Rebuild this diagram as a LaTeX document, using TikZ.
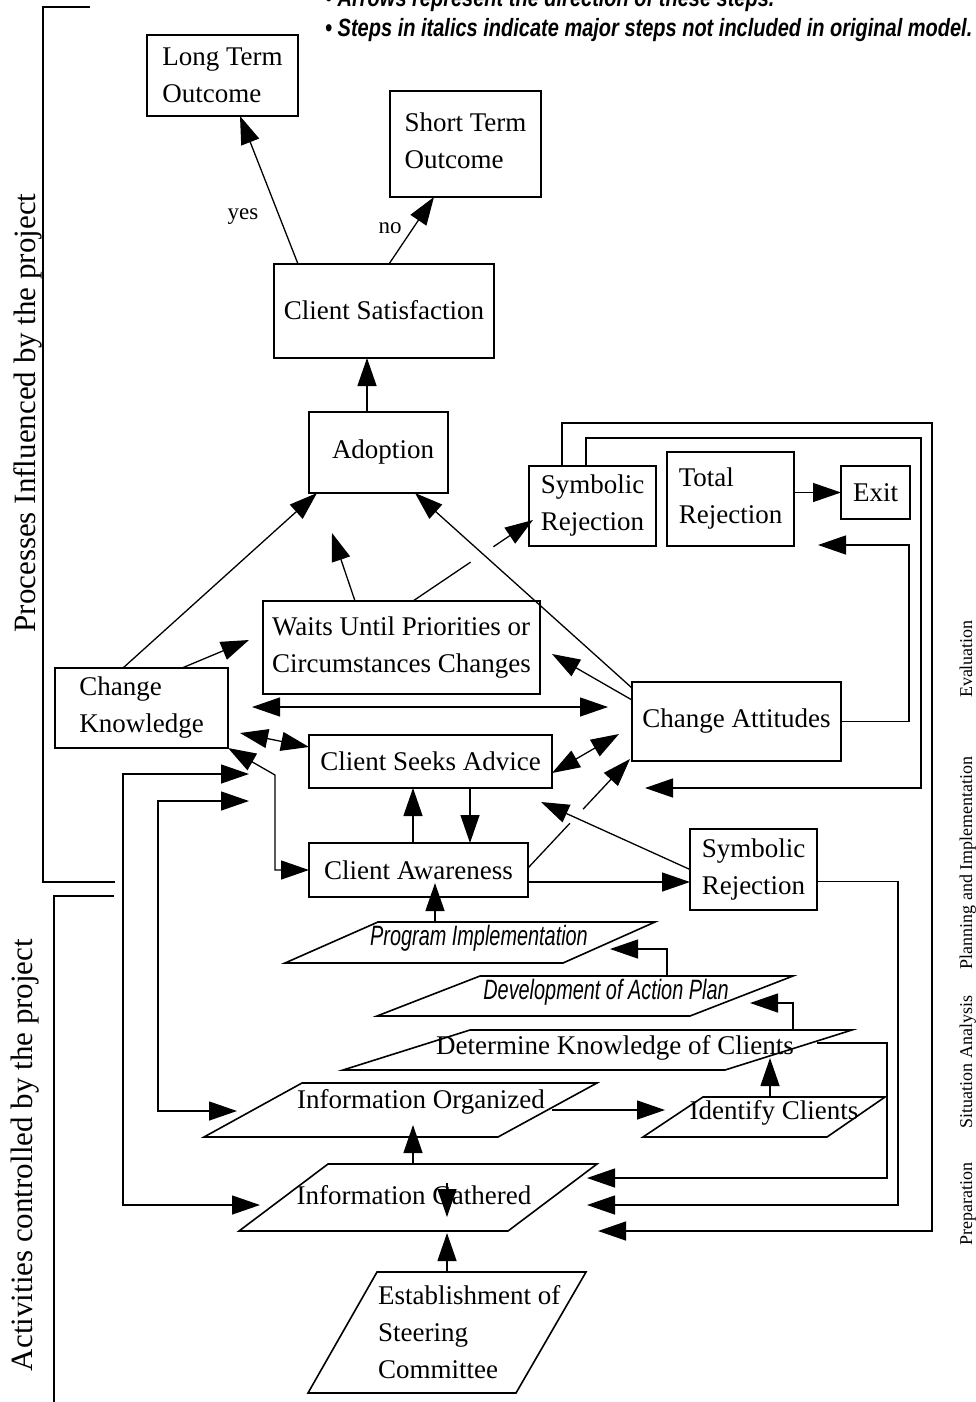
\documentclass[tikz,border=0pt]{standalone}
\usepackage{fontspec}
\setmainfont{Liberation Serif}
\newfontfamily\sansnarrow{Liberation Sans}[FakeStretch=0.71]
\newfontfamily\hdrsans{Liberation Sans}[FakeStretch=0.8]
\usetikzlibrary{arrows.meta,calc}
\newcommand\boxfnt{\fontsize{27}{37}\selectfont}
\newcommand\pitfnt{\sansnarrow\itshape\fontsize{28}{30}\selectfont}
\tikzset{bigtri/.tip={Triangle[length=28pt,width=19pt]}}
\begin{document}
\begin{tikzpicture}[x=1pt,y=-1pt,
  box/.style={draw,line width=1.6pt,inner sep=0pt,outer sep=0pt,font=\boxfnt,align=left,anchor=north west},
  para/.style={draw,line width=1.6pt},
  conn/.style={line width=1.3pt},
  arr/.style={conn,-bigtri},
  darr/.style={conn,bigtri-bigtri},
  ptxt/.style={inner sep=0pt,font=\boxfnt},
  itxt/.style={inner sep=0pt,font=\pitfnt},
  lab/.style={inner sep=0pt,font=\fontsize{23}{25}\selectfont},
  side/.style={inner sep=0pt,rotate=90,anchor=base,font=\fontsize{31}{33}\selectfont},
  phase/.style={inner sep=0pt,rotate=90,anchor=base,font=\fontsize{18}{20}\selectfont},
  hdr/.style={inner sep=0pt,anchor=base west,font=\hdrsans\bfseries\itshape\fontsize{25}{28}\selectfont}]
\useasboundingbox (0,0) rectangle (975,1402);

% header
\node[hdr] (hdr1) at (325,7) {• Arrows represent the direction of these steps.};
\node[hdr] (hdr2) at (325,37) {• Steps in italics indicate major steps not included in original model.};

% brackets and side labels
\draw[conn] (90,7) -- (43,7) -- (43,882) -- (115,882);
\draw[conn] (114,896) -- (54,896) -- (54,1410);
\node[side] (proc) at (35,413) {Processes Influenced by the project};
\node[side] (activ) at (32,1155) {Activities controlled by the project};
\node[phase] (ev) at (972,659) {Evaluation};
\node[phase] (pl) at (972,863) {Planning and Implementation};
\node[phase] (si) at (972,1062) {Situation Analysis};
\node[phase] (pr) at (972,1204) {Preparation};

% boxes
\node[box,minimum width=151pt,minimum height=81pt] (lto) at (147,35) {Long Term\\Outcome};
\node[box,minimum width=151pt,minimum height=106pt] (sto) at (390,91) {\raisebox{6pt}{Short Term}\\\raisebox{6pt}{Outcome}};
\node[box,minimum width=220pt,minimum height=94pt] (cs) at (274,264) {\raisebox{3pt}{Client Satisfaction}};
\node[box,minimum width=139pt,minimum height=81pt] (adopt) at (309,412) {\hspace*{9pt}Adoption};
\node[box,minimum width=127pt,minimum height=80pt] (sr1) at (529,466) {Symbolic\\Rejection};
\node[box,minimum width=127pt,minimum height=94pt] (tr) at (667,452) {Total\\Rejection};
\node[box,minimum width=69pt,minimum height=53pt] (exit) at (841,466) {Exit};
\node[box,minimum width=277pt,minimum height=93pt] (waits) at (263,601) {Waits Until Priorities or\\Circumstances Changes};
\node[box,minimum width=173pt,minimum height=80pt] (ck) at (55,668) {Change\\Knowledge};
\node[box,minimum width=209pt,minimum height=79pt] (ca) at (632,682) {Change Attitudes};
\node[box,minimum width=243pt,minimum height=53pt] (csa) at (309,735) {Client Seeks Advice};
\node[box,minimum width=219pt,minimum height=54pt] (caw) at (309,843) {Client Awareness};
\node[box,minimum width=127pt,minimum height=81pt] (sr2) at (690,829) {Symbolic\\Rejection};

% parallelograms
\draw[para] (378,922) -- (655,922) -- (563,963) -- (285,963) -- cycle;
\node[itxt] (pim) at (479,938) {Program Implementation};
\draw[para] (480,976) -- (793,976) -- (690,1016) -- (377,1016) -- cycle;
\node[itxt] (dap) at (606,992) {Development of Action Plan};
\draw[para] (470,1030) -- (852,1030) -- (725,1070) -- (343,1070) -- cycle;
\node[ptxt] (dkc) at (615,1048) {Determine Knowledge of Clients};
\draw[para] (302,1083) -- (597,1083) -- (498,1137) -- (204,1137) -- cycle;
\node[ptxt] (io) at (421,1102) {Information Organized};
\draw[para] (703,1097) -- (885,1097) -- (827,1137) -- (643,1137) -- cycle;
\node[ptxt] (idc) at (774,1113) {Identify Clients};
\draw[para] (328,1164) -- (597,1164) -- (508,1231) -- (239,1231) -- cycle;
\node[ptxt] (ig) at (414,1195) {Information Gathered};
\draw[para] (377,1272) -- (586,1272) -- (516,1393) -- (308,1393) -- cycle;
\node[ptxt,anchor=west,align=left] (est) at (378,1332) {Establishment of\\Steering\\Committee};

% labels
\node[lab] (yes) at (243,217) {yes};
\node[lab] (no) at (390,228) {no};

% coordinates
\coordinate (aS) at ([xshift=-86pt]cs.north);
\coordinate (aE) at ([xshift=17.5pt]lto.south);
\coordinate (bS) at ([xshift=5pt]cs.north);
\coordinate (bE) at ([xshift=-31.5pt]sto.south);
\coordinate (cS) at ([xshift=-11.5pt]adopt.north);
\coordinate (dS) at ([xshift=-18.5pt]ck.north);
\coordinate (dE) at ([xshift=-61.5pt]adopt.south);
\coordinate (eS) at ([xshift=40.5pt]ck.north);
\coordinate (w1) at (249,640);
\coordinate (fS) at ([xshift=-46.5pt]waits.north);
\coordinate (a1) at (332,533);
\coordinate (gS) at ([xshift=11.5pt]waits.north);
\coordinate (gE) at ([xshift=4pt,yshift=-14pt]sr1.west);
\coordinate (hS) at ([yshift=-6pt]ca.north west);
\coordinate (hE) at ([xshift=-33pt]adopt.south east);
\coordinate (iS) at ([yshift=-18pt]ca.north west);
\coordinate (w2) at (552,654);
\coordinate (h1) at (252,707);
\coordinate (h2) at (608,707);
\coordinate (k1) at (240,733);
\coordinate (kE) at ([yshift=-12pt]csa.north west);
\coordinate (lS) at ([yshift=-11.5pt]csa.east);
\coordinate (l2) at (619,734);
\coordinate (mS) at ([xshift=33pt]sr1.north west);
\coordinate (m1) at (598,1231);
\coordinate (nS) at ([xshift=57pt]sr1.north west);
\coordinate (n1) at (645,788);
\coordinate (exa) at (818,545);
\coordinate (q1) at (275,775);
\coordinate (q2) at (275,870);
\coordinate (r1) at (249,774);
\coordinate (r3) at (123,1205);
\coordinate (r4) at (260,1205);
\coordinate (s1) at (249,801);
\coordinate (s3) at (158,1111);
\coordinate (s4) at (237,1111);
\coordinate (tS) at ([xshift=39.5pt]csa.south);
\coordinate (uS) at ([xshift=-5.5pt]caw.north);
\coordinate (vS) at (435,922);
\coordinate (vE) at ([xshift=16.5pt,yshift=14pt]caw.south);
\coordinate (wS) at ([yshift=-12pt]caw.east);
\coordinate (x1) at (541,802);
\coordinate (yS) at ([yshift=2pt]caw.east);
\coordinate (yE) at ([xshift=-2pt,yshift=2pt]ca.south west);
\coordinate (zS) at ([yshift=-12pt]sr2.east);
\coordinate (z1) at (587,1205);
\coordinate (dapT) at (667,976);
\coordinate (aa1) at (610,949);
\coordinate (dkcT) at (793,1030);
\coordinate (bb1) at (750,1003);
\coordinate (dkcR) at (817,1043);
\coordinate (cc1) at (587,1178);
\coordinate (idcT) at (770,1097);
\coordinate (dkcIn) at (770,1058);
\coordinate (ioR) at (552,1110);
\coordinate (idcL) at (665,1110);
\coordinate (igT) at (413,1164);
\coordinate (ioIn) at (413,1125);
\coordinate (estT) at (447,1272);
\coordinate (igB) at (447,1233);
\coordinate (igM1) at (447,1183);
\coordinate (igM2) at (447,1217);

% connectors
\draw[arr] (aS) -- (aE);
\draw[arr] (bS) -- (bE);
\draw[arr] (cS) -- (cS |- cs.south);
\draw[arr] (dS) -- (dE);
\draw[arr] (eS) -- (w1);
\draw[arr] (fS) -- (a1);
\draw[conn] (gS) -- ($(gS)!0.48!(gE)$);
\draw[arr] ($(gS)!0.67!(gE)$) -- (gE);
\draw[arr] (hS) -- (hE);
\draw[arr] (iS) -- (w2);
\draw[darr] (h1) -- (h2);
\draw[darr] (k1) -- (kE);
\draw[darr] (lS) -- (l2);
\draw[arr] (mS) |- (932,423) -- (932,1231) -- (m1);
\draw[arr] (nS) |- (921,438) -- (921,788) -- (n1);
\draw[arr] (tr.east |- exit.west) -- (exit.west);
\draw[arr] (ca.east) -| (909,545) -- (exa);
\draw[darr] (ck.south east) -- (q1) -- (q2) -- (caw.west);
\draw[darr] (r1) -| (r3) -- (r4);
\draw[darr] (s1) -| (s3) -- (s4);
\draw[arr] (tS) -- (tS |- caw.north);
\draw[arr] (uS) -- (uS |- csa.south);
\draw[arr] (vS) -- (vE);
\draw[arr] (wS) -- (wS -| sr2.west);
\draw[arr] (sr2.west) -- (x1);
\draw[conn] (yS) -- ($(yS)!0.41!(yE)$);
\draw[arr] ($(yS)!0.54!(yE)$) -- (yE);
\draw[arr] (zS) -| (898,1205) -- (z1);
\draw[arr] (dapT) |- (aa1);
\draw[arr] (dkcT) |- (bb1);
\draw[arr] (dkcR) -| (887,1178) -- (cc1);
\draw[arr] (idcT) -- (dkcIn);
\draw[arr] (ioR) -- (idcL);
\draw[arr] (igT) -- (ioIn);
\draw[arr] (estT) -- (igB);
\draw[arr] (igM1) -- (igM2);
\end{tikzpicture}
\end{document}
